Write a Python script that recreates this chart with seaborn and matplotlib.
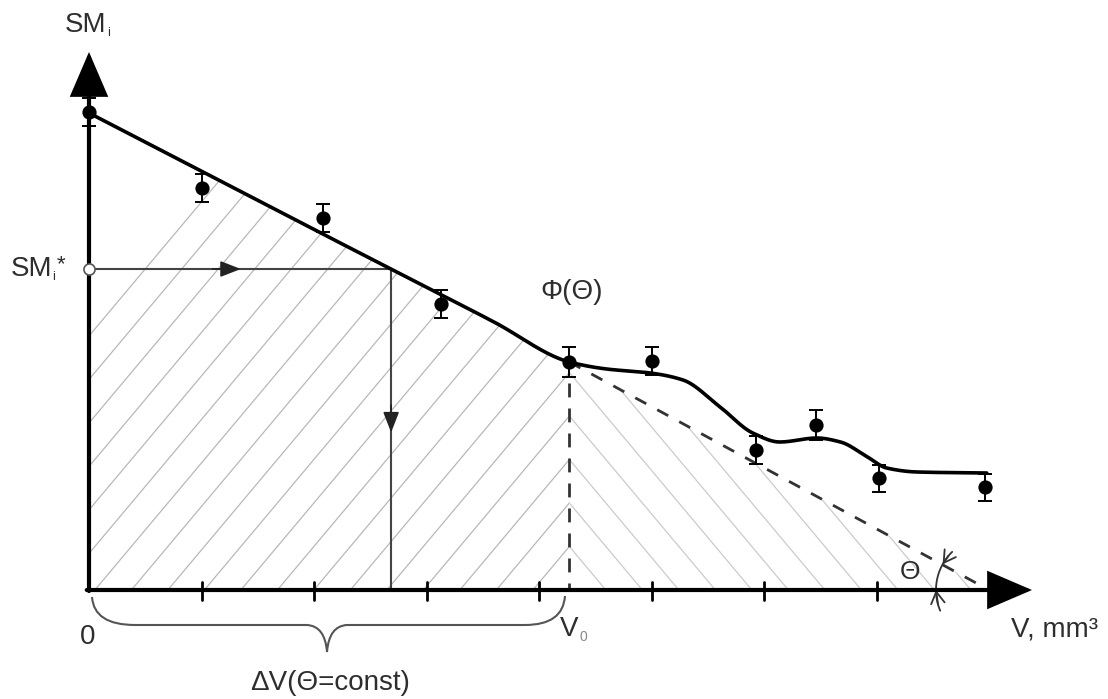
import numpy as np
import matplotlib
matplotlib.use("Agg")
import matplotlib.pyplot as plt
import seaborn as sns
from matplotlib.patches import Polygon
from matplotlib.path import Path
from matplotlib.patches import PathPatch

# ---------------- data ----------------
point_v = [0.0, 1.0, 2.08, 3.13, 4.27, 5.00, 5.93, 6.46, 7.02, 7.96]
point_sm = [9.56, 8.04, 7.44, 5.72, 4.56, 4.58, 2.80, 3.30, 2.24, 2.06]
point_err = [0.28, 0.28, 0.28, 0.28, 0.30, 0.28, 0.28, 0.30, 0.27, 0.27]

curve_v = [0.0, 2.0, 3.6, 4.27, 4.6, 4.99, 5.28, 5.61, 5.90, 6.14, 6.47, 6.68, 6.92, 7.09, 7.36, 7.98]
curve_sm = [9.54, 7.21, 5.36, 4.56, 4.42, 4.34, 4.20, 3.66, 3.14, 2.96, 3.04, 2.96, 2.66, 2.44, 2.36, 2.34]

v0 = 4.27          # V0
sm_v0 = 4.56       # SM at V0
v_end = 8.0        # where tangent (dashed) line meets the V axis
sm_star = 6.42     # SMi*
tick_positions = [1, 2, 3, 4, 5, 6, 7, 8]

# ---------------- style ----------------
sns.set_theme(style="white")
plt.rcParams["font.family"] = ["Liberation Sans", "DejaVu Sans"]

TXT = "#2e2e2e"
PXX, PXY = 112.5, 50.0   # pixels per data unit
OX, OY = 89, 590         # origin in pixels


def pchip(xk, yk, xs):
    xk = np.asarray(xk, float); yk = np.asarray(yk, float)
    h = np.diff(xk); d = np.diff(yk) / h
    n = len(xk); m = np.zeros(n)
    m[0], m[-1] = d[0], d[-1]
    for k in range(1, n - 1):
        if d[k - 1] * d[k] <= 0:
            m[k] = 0.0
        else:
            w1 = 2 * h[k] + h[k - 1]; w2 = h[k] + 2 * h[k - 1]
            m[k] = (w1 + w2) / (w1 / d[k - 1] + w2 / d[k])
    idx = np.clip(np.searchsorted(xk, xs) - 1, 0, n - 2)
    t = (xs - xk[idx]) / h[idx]
    h00 = 2 * t**3 - 3 * t**2 + 1; h10 = t**3 - 2 * t**2 + t
    h01 = -2 * t**3 + 3 * t**2; h11 = t**3 - t**2
    return h00 * yk[idx] + h10 * h[idx] * m[idx] + h01 * yk[idx + 1] + h11 * h[idx] * m[idx + 1]


fig = plt.figure(figsize=(11.08, 6.99), dpi=100)
ax = fig.add_axes([0, 0, 1, 1])
ax.set_xlim(-OX / PXX, (1108 - OX) / PXX)
ax.set_ylim(-(699 - OY) / PXY, OY / PXY)
ax.axis("off")

xs = np.linspace(curve_v[0], curve_v[-1], 600)
ys = pchip(curve_v, curve_sm, xs)

# ---------------- hatching ----------------
slope = np.tan(np.radians(50)) * PXX / PXY
dy = 0.87
left_mask = xs <= v0
left_poly = np.vstack([[0, 0], np.column_stack([xs[left_mask], ys[left_mask]]), [v0, sm_v0], [v0, 0]])
left_patch = Polygon(left_poly, closed=True, facecolor="none", edgecolor="none")
ax.add_patch(left_patch)
right_patch = Polygon([[v0, 0], [v0, sm_v0], [v_end, 0]], closed=True, facecolor="none", edgecolor="none")
ax.add_patch(right_patch)
for k in range(-20, 20):
    yy = k * dy
    hx = np.array([-1.0, 9.0])
    l1, = ax.plot(hx, yy + slope * (hx - v0), color="#b8b8b8", lw=0.9, zorder=1)
    l1.set_clip_path(left_patch)
    l2, = ax.plot(hx, yy - slope * (hx - v0), color="#cbcbcb", lw=0.9, zorder=1)
    l2.set_clip_path(right_patch)

# ---------------- curve, tangent, guides ----------------
sns.lineplot(x=xs, y=ys, sort=False, estimator=None, color="black", lw=2.6, ax=ax, zorder=4)
ax.plot([v0, v_end], [sm_v0, 0], color="#333333", lw=2.0, dashes=(4.5, 4.5), zorder=3)
ax.plot([v0, v0], [sm_v0 - 0.42, 0], color="#333333", lw=2.0, dashes=(5, 4), zorder=3)

v_star = float(np.interp(-sm_star, -ys[left_mask], xs[left_mask]))
ax.plot([0, v_star], [sm_star, sm_star], color="#444444", lw=1.5, zorder=3)
ax.plot([v_star, v_star], [sm_star, 0], color="#444444", lw=1.5, zorder=3)
ax.annotate("", xy=(1.35, sm_star), xytext=(1.1, sm_star),
            arrowprops=dict(arrowstyle="-|>,head_length=0.9,head_width=0.35", color="#222222",
                            lw=1.2, mutation_scale=14, shrinkA=0, shrinkB=0), zorder=4)
ax.annotate("", xy=(v_star, 3.15), xytext=(v_star, 3.7),
            arrowprops=dict(arrowstyle="-|>,head_length=0.9,head_width=0.35", color="#222222",
                            lw=1.2, mutation_scale=14, shrinkA=0, shrinkB=0), zorder=4)
ax.plot([0], [sm_star], marker="o", ms=8, mfc="white", mec="#555555", mew=1.2, zorder=8)

# ---------------- points with error bars ----------------
ax.errorbar(point_v, point_sm, yerr=point_err, fmt="none", ecolor="black",
            elinewidth=1.4, capsize=5, capthick=1.4, zorder=5)
sns.scatterplot(x=point_v, y=point_sm, color="black", s=105, edgecolor="black", linewidth=0, ax=ax, zorder=6)

# ---------------- axes with arrows ----------------
y_tip = (OY - 52) / PXY
x_tip = (1032 - OX) / PXX
arrow_kw = dict(arrowstyle="-|>,head_length=1.35,head_width=0.58", color="black", lw=3.0,
                mutation_scale=20, shrinkA=0, shrinkB=0, joinstyle="miter")
ax.annotate("", xy=(0, y_tip), xytext=(0, -0.02), arrowprops=arrow_kw, zorder=7)
ax.annotate("", xy=(x_tip, 0), xytext=(-0.02, 0), arrowprops=arrow_kw, zorder=7)
for t in tick_positions:
    ax.plot([t, t], [0.17, -0.2], color="black", lw=2.0, zorder=7)

# ---------------- theta arc ----------------
cx, cy = OX + v_end * PXX, OY
r = 53
ang = np.radians(np.linspace(134, 203, 80))
ax.plot((cx + r * np.cos(ang) - OX) / PXX, (OY - (cy - r * np.sin(ang))) / PXY,
        color="#333333", lw=1.3, zorder=4)
def arc_pt(a):
    a = np.radians(a)
    return ((cx + r * np.cos(a) - OX) / PXX, (OY - (cy - r * np.sin(a))) / PXY)
ax.annotate("", xy=arc_pt(151), xytext=arc_pt(140),
            arrowprops=dict(arrowstyle="->,head_length=0.6,head_width=0.35", color="#333333", lw=1.3,
                            mutation_scale=14, shrinkA=0, shrinkB=0), zorder=4)
ax.annotate("", xy=arc_pt(180), xytext=arc_pt(196),
            arrowprops=dict(arrowstyle="->,head_length=0.6,head_width=0.35", color="#333333", lw=1.3,
                            mutation_scale=14, shrinkA=0, shrinkB=0), zorder=4)

# ---------------- brace under the axis ----------------
def P(x, y):
    return ((x - OX) / PXX, (OY - y) / PXY)
mid = 327
verts = [P(92, 597), P(94, 625), P(135, 625), P(mid - 20, 625), P(mid - 2, 626), P(mid, 652),
         P(mid + 2, 626), P(mid + 20, 625), P(525, 625), P(563, 625), P(565, 596)]
codes = [Path.MOVETO, Path.CURVE3, Path.CURVE3, Path.LINETO, Path.CURVE3, Path.CURVE3,
         Path.CURVE3, Path.CURVE3, Path.LINETO, Path.CURVE3, Path.CURVE3]
ax.add_patch(PathPatch(Path(verts, codes), facecolor="none", edgecolor="#555555", lw=1.5, zorder=3))

# ---------------- texts ----------------
fs = 20
ax.text(*P(106, 25), "SM", fontsize=fs, color=TXT, ha="right", va="center")
ax.text(*P(107, 33), "i", fontsize=9, color=TXT, ha="left", va="center")
ax.text(*P(52, 269), "SM", fontsize=fs, color=TXT, ha="right", va="center")
ax.text(*P(52, 277), "i", fontsize=9, color=TXT, ha="left", va="center")
ax.text(*P(57, 265), "*", fontsize=16, color=TXT, ha="left", va="center")
ax.text(*P(572, 292), "Φ(Θ)", fontsize=fs, color=TXT, ha="center", va="center")
ax.text(*P(88, 637), "0", fontsize=fs, color=TXT, ha="center", va="center")
ax.text(*P(560, 629), "V", fontsize=fs, color=TXT, ha="left", va="center")
ax.text(*P(580, 637), "0", fontsize=10, color="#8a8a8a", ha="left", va="center")
ax.text(*P(1011, 629), "V, mm³", fontsize=fs, color=TXT, ha="left", va="center", clip_on=False)
ax.text(*P(330, 683), "ΔV(Θ=const)", fontsize=fs, color=TXT, ha="center", va="center")
ax.text(*P(910, 572), "Θ", fontsize=19, color=TXT, ha="center", va="center", zorder=5)

fig.savefig("out.png", dpi=100, facecolor="white")
